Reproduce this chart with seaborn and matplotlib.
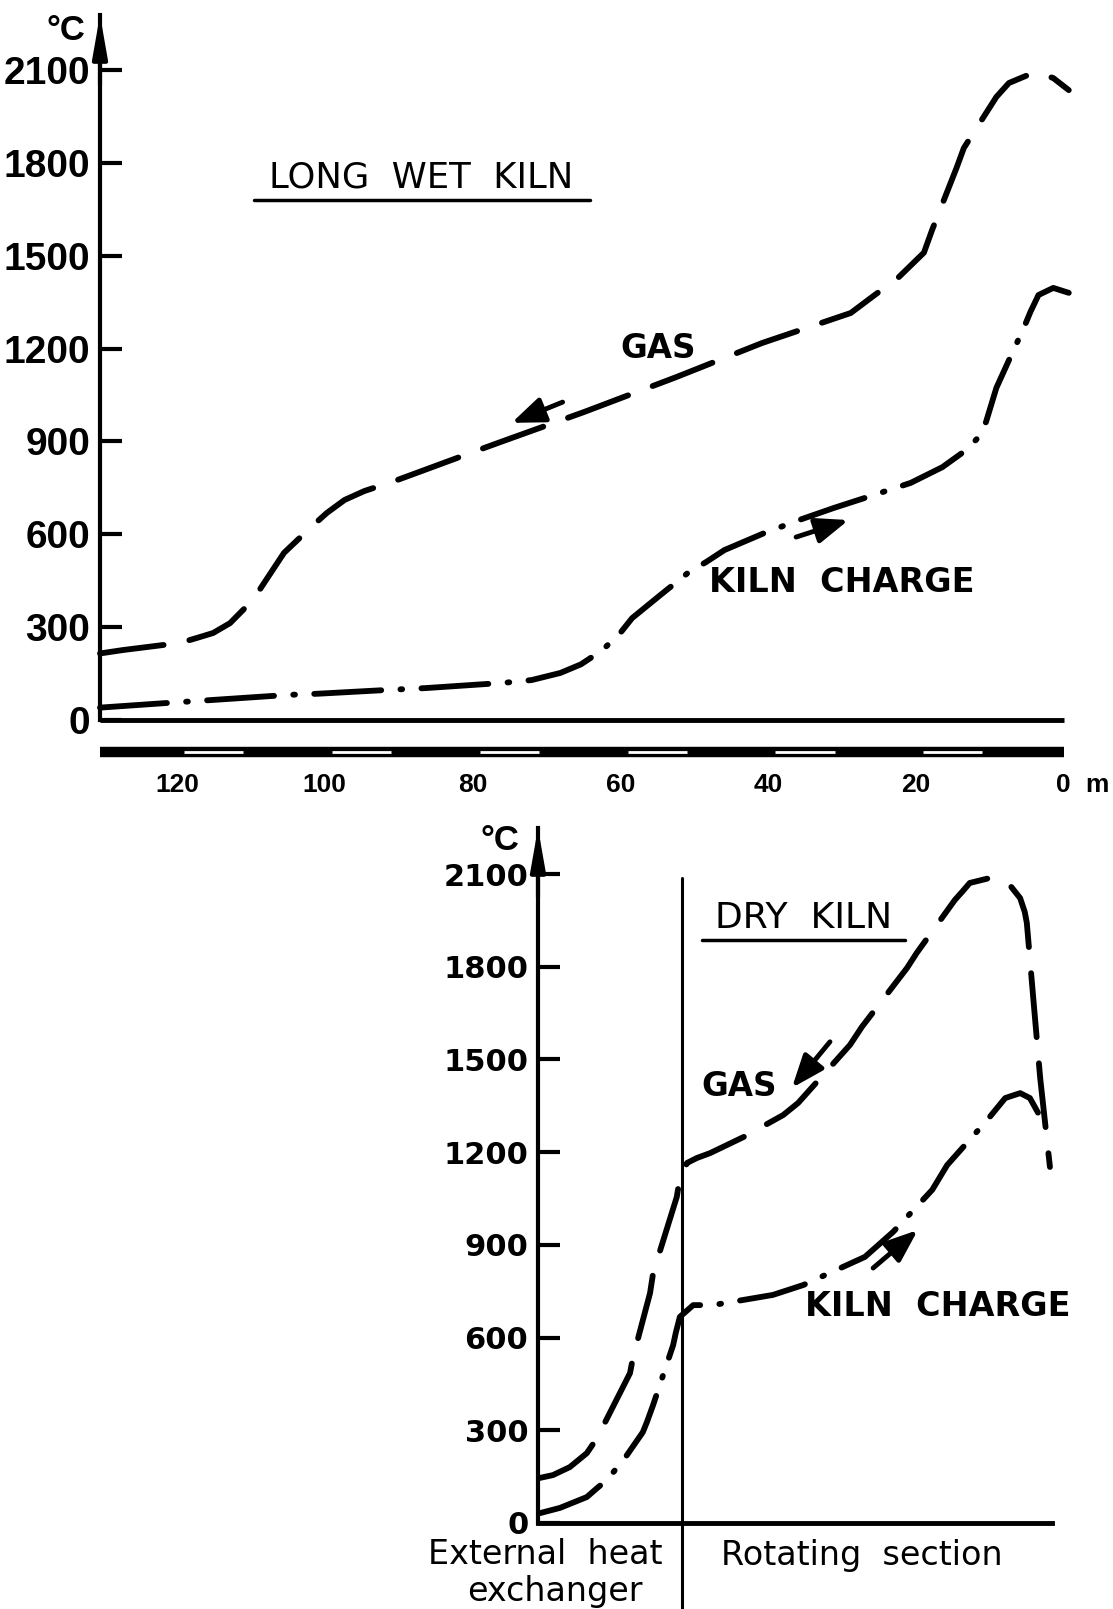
import matplotlib
matplotlib.use("Agg")
import matplotlib.pyplot as plt
import numpy as np
import pandas as pd
import seaborn as sns

# ---------------- data ----------------
# Long wet kiln: distance from kiln outlet (m) and temperature (deg C)
gas_top_m = [130.4, 127.3, 119.6, 117.3, 115.1, 112.8, 109.7, 108.1, 105.5, 101.8, 99.7,
             97.3, 94.6, 90.9, 88.5, 78.4, 75.4, 64.9, 52.4, 40.8, 28.8, 25.9, 22.3,
             18.9, 17.8, 14.5, 13.5, 9.1, 7.4, 5.1, 3.4, 1.4, -0.7]
gas_top_T = [215, 226, 249, 265, 281, 313, 388, 446, 540, 624, 669,
             711, 740, 769, 790, 879, 905, 995, 1108, 1218, 1315, 1367, 1431,
             1510, 1583, 1783, 1848, 2013, 2058, 2081, 2090, 2074, 2035]

kiln_top_m = [130.4, 119.5, 115.0, 105.0, 100.8, 91.6, 86.4, 75.8, 72.0, 68.1, 65.3,
              62.4, 60.0, 58.4, 54.5, 50.7, 48.4, 45.9, 40.5, 35.8, 31.1, 25.8, 20.7,
              16.4, 13.2, 11.5, 10.5, 9.1, 7.2, 5.4, 4.5, 3.4, 1.4, -0.7]
kiln_top_T = [40, 58, 65, 81, 85, 97, 103, 120, 129, 152, 180,
              226, 281, 329, 405, 478, 510, 549, 604, 646, 685, 726, 766,
              817, 872, 914, 963, 1073, 1173, 1266, 1318, 1373, 1396, 1380]

ruler_ticks = [120, 100, 80, 60, 40, 20, 0]
ruler_labels = ["120", "100", "80", "60", "40", "20", "0"]

# Dry kiln: relative position along the system (0-100) and temperature
gas_bot_p = [0.4, 2.9, 6.2, 9.5, 11.5, 17.9, 18.5, 21.8, 22.4, 27.0, 27.6, 29.0, 30.9,
             33.5, 40.0, 47.7, 50.6, 60.7, 63.0, 71.8, 73.7, 81.1, 82.5, 84.0, 87.9,
             91.8, 93.8, 94.7, 95.1, 96.3, 97.7, 99.6]
gas_bot_T = [146, 155, 181, 226, 275, 485, 537, 744, 809, 1055, 1116, 1165, 1181,
             1197, 1249, 1320, 1359, 1547, 1605, 1796, 1845, 2016, 2042, 2071, 2087,
             2064, 2022, 1977, 1942, 1709, 1440, 1152]

kiln_bot_p = [0.4, 4.3, 9.5, 11.5, 13.4, 16.9, 20.4, 21.2, 22.4, 26.3, 26.8, 27.6, 30.2,
              34.0, 45.7, 51.6, 63.6, 69.1, 76.7, 79.6, 87.4, 90.9, 93.8, 95.7, 97.3]
kiln_bot_T = [32, 49, 84, 113, 139, 210, 294, 327, 382, 576, 615, 667, 705,
              705, 738, 770, 861, 942, 1078, 1158, 1304, 1375, 1391, 1375, 1327]

divider_pos = 28.0
y_ticks = [0, 300, 600, 900, 1200, 1500, 1800, 2100]

# flow-direction arrows (tail, tip)
arrow_gas_top = ((67.8, 1027), (74.7, 960))
arrow_kiln_top = ((36.2, 591), (29.1, 646))
arrow_gas_bot = ((56.8, 1557), (49.4, 1408))
arrow_kiln_bot = ((65.2, 825), (73.9, 948))

# ---------------- figure ----------------
sns.set_theme(style="white")
plt.rcParams["font.family"] = ["DejaVu Sans"]
plt.rcParams["text.color"] = "black"
plt.rcParams["xtick.color"] = "black"
plt.rcParams["ytick.color"] = "black"
plt.rcParams["axes.labelcolor"] = "black"

W, H = 1113, 1609
fig = plt.figure(figsize=(W / 100, H / 100), dpi=100)


def fx(px):
    return px / W


def fy(py):
    return 1 - py / H


LW = 4.2
gas_dash = (11.0, 4.5)
kiln_dash = (11.5, 3.3, 0.3, 3.3)


def style_axes(ax, ytop_px, y0_px, y2100_px, label_font, bottom_spine=True):
    ax.set_ylim(0, 2100 * (y0_px - ytop_px) / (y0_px - y2100_px))
    ax.set_yticks(y_ticks)
    ax.set_yticklabels([str(v) for v in y_ticks], color="black", **label_font)
    ax.tick_params(axis="y", direction="in", length=16, width=3, pad=7, left=True,
                   color="black")
    ax.tick_params(axis="x", bottom=False, labelbottom=False)
    for s in ["top", "right"]:
        ax.spines[s].set_visible(False)
    ax.spines["left"].set_linewidth(3)
    ax.spines["left"].set_color("black")
    ax.spines["bottom"].set_visible(bottom_spine)
    ax.spines["bottom"].set_linewidth(3.5)
    ax.spines["bottom"].set_color("black")
    ax.set_xlabel("")
    ax.set_ylabel("")
    ax.grid(False)
    ax.patch.set_alpha(0)
    ax.annotate("", xy=(0, 1.0), xycoords="axes fraction", xytext=(0, 0.9),
                arrowprops=dict(arrowstyle="-|>,head_length=1.25,head_width=0.22",
                                color="black", lw=3, mutation_scale=20,
                                shrinkA=0, shrinkB=0))


def draw_curves(ax, df, xcol):
    sns.lineplot(data=df, x=xcol, y="T", style="series",
                 dashes={"Gas": gas_dash, "Kiln charge": kiln_dash},
                 color="black", linewidth=LW, sort=False, estimator=None,
                 legend=False, ax=ax)
    for ln in ax.lines:
        ln.set_dash_capstyle("round")
        ln.set_solid_capstyle("round")
        ln.set_dash_joinstyle("round")
        ln.set_clip_on(False)


def flow_arrow(ax, arr):
    (x0, y0), (x1, y1) = arr
    ax.annotate("", xy=(x1, y1), xytext=(x0, y0),
                arrowprops=dict(arrowstyle="-|>,head_length=0.9,head_width=0.35",
                                color="black", lw=3.5, mutation_scale=22,
                                shrinkA=0, shrinkB=0))


# ---- top: long wet kiln ----
ax1 = fig.add_axes([fx(100), fy(720), (1071 - 100) / W, (720 - 15) / H])
df_top = pd.concat([
    pd.DataFrame({"m": gas_top_m, "T": gas_top_T, "series": "Gas"}),
    pd.DataFrame({"m": kiln_top_m, "T": kiln_top_T, "series": "Kiln charge"}),
], ignore_index=True)
draw_curves(ax1, df_top, "m")
ax1.set_xlim(130.4, -1.0)
style_axes(ax1, 15, 720, 70,
           dict(family="Liberation Sans", weight="bold", size=28),
           bottom_spine=False)
x0, x1 = ax1.get_xlim()
ax1.axhline(0, xmin=0, xmax=(x0 - 0) / (x0 - x1), color="black", lw=3.5,
            solid_capstyle="butt", clip_on=False)
flow_arrow(ax1, arrow_gas_top)
flow_arrow(ax1, arrow_kiln_top)

# ruler under the top chart
axr = fig.add_axes([fx(100), fy(765), (1071 - 100) / W, 25 / H])
axr.set_xlim(130.4, -1.0)
axr.set_ylim(0, 1)
axr.axhline(0.5, xmin=0, xmax=(x0 - 0) / (x0 - x1), color="black", lw=7.5,
            solid_capstyle="butt")
for t in ruler_ticks[:-1]:
    axr.plot([t - 1, t - 9], [0.5, 0.5], color="white", lw=2.0,
             solid_capstyle="butt")
axr.set_xticks(ruler_ticks)
axr.set_xticklabels(ruler_labels, family="Liberation Sans", weight="bold", size=19)
axr.tick_params(axis="x", length=0, pad=6)
axr.set_yticks([])
for s in axr.spines.values():
    s.set_visible(False)
axr.patch.set_alpha(0)
fig.text(fx(1097), fy(785), "m", ha="center", va="center",
         family="Liberation Sans", weight="bold", size=19)

fig.text(fx(66), fy(30), "°C", ha="center", va="center",
         family="Liberation Sans", weight="bold", size=25)
fig.text(fx(421), fy(178), "LONG  WET  KILN", ha="center", va="center", size=25.5)
fig.add_artist(plt.Line2D([fx(254), fx(590)], [fy(200), fy(200)], color="black", lw=2.5))
fig.text(fx(658), fy(349), "GAS", ha="center", va="center", weight="bold", size=23.5)
fig.text(fx(842), fy(583), "KILN  CHARGE", ha="center", va="center",
         weight="bold", size=24)

# ---- bottom: dry kiln ----
ax2 = fig.add_axes([fx(538), fy(1523), (1052 - 538) / W, (1523 - 828) / H])
df_bot = pd.concat([
    pd.DataFrame({"p": gas_bot_p, "T": gas_bot_T, "series": "Gas"}),
    pd.DataFrame({"p": kiln_bot_p, "T": kiln_bot_T, "series": "Kiln charge"}),
], ignore_index=True)
draw_curves(ax2, df_bot, "p")
ax2.set_xlim(0, 100)
style_axes(ax2, 828, 1523, 874,
           dict(family="DejaVu Sans", weight="bold", size=22),
           bottom_spine=True)
ytop2 = ax2.get_ylim()[1]
ax2.axvline(divider_pos, ymin=-(H - 1523) / (1523 - 828), ymax=2087 / ytop2,
            color="black", lw=2.2, clip_on=False)
flow_arrow(ax2, arrow_gas_bot)
flow_arrow(ax2, arrow_kiln_bot)

fig.text(fx(500), fy(840), "°C", ha="center", va="center",
         family="Liberation Sans", weight="bold", size=25)
fig.text(fx(804), fy(918), "DRY  KILN", ha="center", va="center", size=26)
fig.add_artist(plt.Line2D([fx(702), fx(905)], [fy(940), fy(940)], color="black", lw=2.5))
fig.text(fx(739), fy(1087), "GAS", ha="center", va="center", weight="bold", size=23.5)
fig.text(fx(938), fy(1307), "KILN  CHARGE", ha="center", va="center",
         weight="bold", size=24)
fig.text(fx(545), fy(1555), "External  heat", ha="center", va="center", size=24)
fig.text(fx(555), fy(1591), "exchanger", ha="center", va="center", size=24)
fig.text(fx(862), fy(1555), "Rotating  section", ha="center", va="center", size=24)

fig.savefig("out.png", dpi=100, facecolor="white")
